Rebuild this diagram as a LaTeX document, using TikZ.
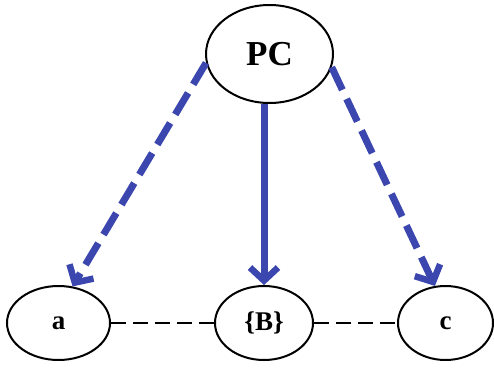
\documentclass[tikz,border=0pt]{standalone}
\usepackage{fontspec}
\setmainfont{Liberation Serif}
\usetikzlibrary{shapes.geometric,arrows.meta}
\definecolor{arrblue}{RGB}{60,70,175}
\tikzset{
  ell/.style={draw=black, line width=2pt, ellipse, inner sep=0pt, font=\bfseries\fontsize{27}{27}\selectfont},
  bluearr/.style={draw=arrblue, line width=7pt, -{Straight Barb[length=13pt,width=28pt,line width=6.5pt]}},
  bluedash/.style={bluearr, dash pattern=on 25pt off 10pt},
  blackdash/.style={draw=black, line width=2.2pt, dash pattern=on 15pt off 7pt}
}
\begin{document}
\begin{tikzpicture}[x=1pt,y=1pt]
\useasboundingbox[fill=white] (0,0) rectangle (494,368);
\node[ell, minimum width=127pt, minimum height=98pt, font=\bfseries\fontsize{35}{35}\selectfont] (PC) at (269.5,314) {PC};
\node[ell, minimum width=103pt, minimum height=74pt] (a) at (58.5,45) {a};
\node[ell, minimum width=98pt, minimum height=74pt] (B) at (264,45) {\{B\}};
\node[ell, minimum width=95pt, minimum height=74pt] (c) at (445.5,45) {c};
\draw[bluedash] (PC.188) -- (a.69);
\draw[bluearr] (PC.south -| B.north) -- (B.north);
\draw[bluedash] (PC.348) -- (c.106);
\draw[blackdash] (a.east) -- (B.west);
\draw[blackdash] (B.east) -- (c.west);
\end{tikzpicture}
\end{document}
